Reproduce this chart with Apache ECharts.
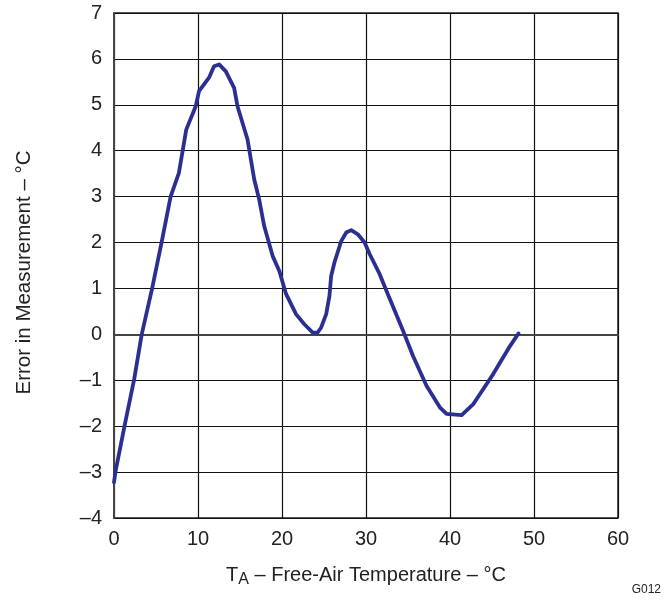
<!DOCTYPE html>
<html>
<head>
<meta charset="utf-8">
<script src="https://cdn.jsdelivr.net/npm/echarts@6/dist/echarts.min.js"></script>
<style>
html,body{margin:0;padding:0;background:#fff;}
#chart{width:664px;height:600px;}
</style>
</head>
<body>
<div id="chart"></div>
<script>
// Free-air temperature (°C)
var temperature = [0, 0.2, 1.28, 2.41, 3.3, 4.54, 5.66, 6.74, 7.73, 8.6, 9.73, 10.12, 11.31, 11.91, 12.51, 13.31, 14.3, 14.7, 15.89, 16.69, 17.28, 17.88, 18.88, 19.68, 20.48, 21.67, 22.66, 23.66, 24.25, 24.66, 25.26, 25.65, 25.85, 26.25, 27.05, 27.65, 28.24, 29.03, 29.83, 30.43, 31.63, 32.43, 34.41, 35.6, 37.2, 38.79, 39.59, 41.39, 42.77, 43.57, 45.16, 47.16, 48.15];
// Error in measurement (°C)
var errorValues = [-3.22, -2.97, -1.97, -0.97, 0.0, 1.0, 2.0, 3.0, 3.52, 4.46, 4.97, 5.3, 5.59, 5.84, 5.88, 5.73, 5.37, 4.97, 4.25, 3.38, 2.94, 2.36, 1.71, 1.38, 0.88, 0.44, 0.22, 0.04, 0.04, 0.15, 0.44, 0.84, 1.27, 1.57, 2.03, 2.22, 2.27, 2.18, 2.0, 1.75, 1.31, 0.95, 0.08, -0.47, -1.12, -1.59, -1.73, -1.76, -1.52, -1.3, -0.86, -0.25, 0.02];
var xTicks = [0, 10, 20, 30, 40, 50, 60];
var yTicks = [-4, -3, -2, -1, 0, 1, 2, 3, 4, 5, 6, 7];

var points = temperature.map(function (t, i) { return [t, errorValues[i]]; });
var font = 'Liberation Sans, Arial, sans-serif';
var txt = '#222';

var chart = echarts.init(document.getElementById('chart'), null, {renderer: 'canvas'});
chart.setOption({
  animation: false,
  backgroundColor: '#fff',
  grid: {left: 114, top: 13, width: 504, height: 505, show: true, borderColor: '#222', borderWidth: 1.5, backgroundColor: 'transparent'},
  xAxis: {
    type: 'value', min: xTicks[0], max: xTicks[xTicks.length - 1], interval: 10,
    axisLine: {show: true, lineStyle: {color: '#444', width: 2}},
    axisTick: {show: false},
    splitLine: {show: true, lineStyle: {color: '#111', width: 1.2}},
    axisLabel: {color: txt, fontFamily: font, fontSize: 20, margin: 11},
    name: '{t|T}{s|A}{t| – Free-Air Temperature – °C}',
    nameLocation: 'middle', nameGap: 44,
    nameTextStyle: {
      rich: {
        t: {fontFamily: font, fontSize: 20, color: txt},
        s: {fontFamily: font, fontSize: 16, color: txt, verticalAlign: 'bottom', padding: [10, 0, 0, 0]}
      }
    }
  },
  yAxis: {
    type: 'value', min: yTicks[0], max: yTicks[yTicks.length - 1], interval: 1,
    axisLine: {show: true, lineStyle: {color: '#444', width: 2}},
    axisTick: {show: false},
    splitLine: {show: true, lineStyle: {color: '#111', width: 1.2}},
    axisLabel: {color: txt, fontFamily: font, fontSize: 20, margin: 12,
      formatter: function (v) { return String(v).replace('-', '–'); }},
    name: 'Error in Measurement – °C',
    nameLocation: 'middle', nameGap: 79,
    nameTextStyle: {fontFamily: font, fontSize: 20.5, color: txt, padding: [0, 14, 0, 0]}
  },
  graphic: [{
    type: 'text', right: 3, top: 584,
    style: {text: 'G012', fontFamily: font, fontSize: 12, fill: txt}
  }],
  series: [{
    type: 'line', data: points, smooth: false, showSymbol: false,
    lineStyle: {color: '#2b2f92', width: 3.8, join: 'round', cap: 'round'}
  }]
});
</script>
</body>
</html>
